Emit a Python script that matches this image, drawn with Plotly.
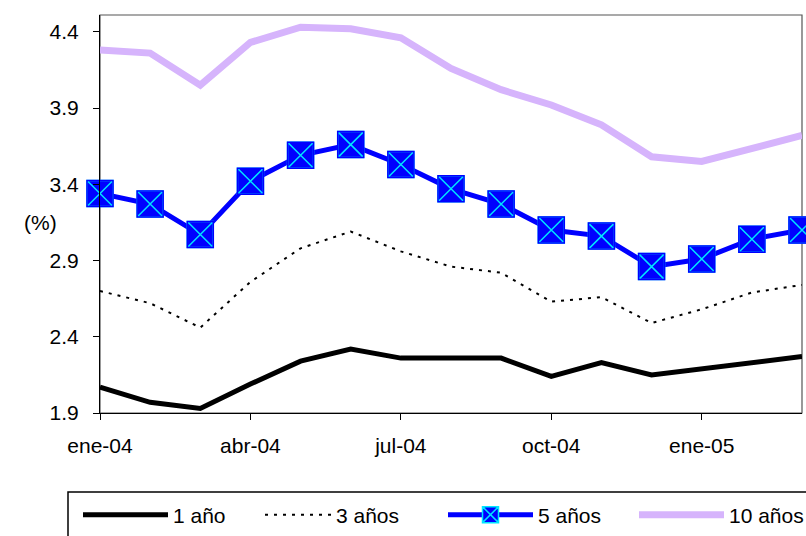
import plotly.graph_objects as go

months = ["ene-04", "feb-04", "mar-04", "abr-04", "may-04", "jun-04", "jul-04",
          "ago-04", "sep-04", "oct-04", "nov-04", "dic-04", "ene-05", "feb-05", "mar-05"]
tick_labels = ["ene-04", "abr-04", "jul-04", "oct-04", "ene-05"]
y_ticks = [1.9, 2.4, 2.9, 3.4, 3.9, 4.4]

tasa_1 = [2.07, 1.97, 1.93, 2.09, 2.24, 2.32, 2.26, 2.26, 2.26, 2.14, 2.23, 2.15, 2.19, 2.23, 2.27]
tasa_3 = [2.70, 2.62, 2.46, 2.76, 2.98, 3.09, 2.96, 2.86, 2.82, 2.63, 2.66, 2.49, 2.58, 2.69, 2.74]
tasa_5 = [3.34, 3.27, 3.07, 3.42, 3.59, 3.66, 3.53, 3.37, 3.27, 3.10, 3.06, 2.86, 2.91, 3.04, 3.10]
tasa_10 = [4.28, 4.26, 4.05, 4.33, 4.43, 4.42, 4.36, 4.16, 4.02, 3.92, 3.79, 3.58, 3.55, 3.64, 3.72]

FONT = "Liberation Sans, Arial, sans-serif"
FS = 21

fig = go.Figure()

fig.add_trace(go.Scatter(
    x=months, y=tasa_10, mode="lines", name="10 años",
    line=dict(color="#d6b4fc", width=7), legend="legend4", cliponaxis=False))
fig.add_trace(go.Scatter(
    x=months, y=tasa_3, mode="lines", name="3 años",
    line=dict(color="black", width=2, dash="3px,6px"), legend="legend2", cliponaxis=False))
fig.add_trace(go.Scatter(
    x=months, y=tasa_1, mode="lines", name="1 año",
    line=dict(color="black", width=5), legend="legend", cliponaxis=False))
fig.add_trace(go.Scatter(
    x=months, y=tasa_5, mode="lines+markers", name="5 años",
    line=dict(color="#0000ff", width=5),
    marker=dict(symbol="square-x", size=26, color="#0000ff",
                line=dict(color="#00e5ff", width=1.5)),
    legend="legend3", cliponaxis=False))
# blue rim over the marker outline so only the cross is cyan
fig.add_trace(go.Scatter(
    x=months, y=tasa_5, mode="markers", showlegend=False, hoverinfo="skip",
    marker=dict(symbol="square-open", size=26, color="#0000ff",
                line=dict(color="#0000ff", width=1.5)),
    cliponaxis=False))

PLOT_L, PLOT_R, PLOT_T, PLOT_B = 100, 802, 15, 413
W, H = PLOT_R - PLOT_L, PLOT_B - PLOT_T


def px_x(px):
    return (px - PLOT_L) / W


def px_y(py):
    return (PLOT_B - py) / H


legend_common = dict(orientation="h", yanchor="middle", xanchor="left",
                     font=dict(family=FONT, size=FS, color="black"),
                     bgcolor="rgba(0,0,0,0)", borderwidth=0)

fig.update_layout(
    width=806, height=536,
    margin=dict(l=PLOT_L, r=806 - PLOT_R, t=PLOT_T, b=536 - PLOT_B, autoexpand=False),
    paper_bgcolor="white", plot_bgcolor="rgba(0,0,0,0)",
    font=dict(family=FONT, size=FS, color="black"),
    xaxis=dict(
        type="category", categoryarray=months, range=[0, len(months) - 1],
        tickmode="array", tickvals=tick_labels, ticktext=tick_labels,
        ticks="outside", ticklen=6, tickcolor="black", tickwidth=1,
        showline=True, linecolor="black", linewidth=1,
        showgrid=False, zeroline=False, ticklabelstandoff=8, automargin=False,
        tickfont=dict(family=FONT, size=FS, color="black")),
    yaxis=dict(
        range=[1.9, 4.51], tickmode="array", tickvals=y_ticks,
        ticktext=[f"{v:.1f}" for v in y_ticks],
        ticks="outside", ticklen=6, tickcolor="black", tickwidth=1,
        showline=True, linecolor="black", linewidth=1,
        showgrid=False, zeroline=False, ticklabelstandoff=10, automargin=False,
        tickfont=dict(family=FONT, size=FS, color="black")),
    legend=dict(x=px_x(78), y=px_y(515), itemwidth=85, **legend_common),
    legend2=dict(x=px_x(260), y=px_y(515), itemwidth=66, **legend_common),
    legend3=dict(x=px_x(443), y=px_y(515), itemwidth=85, **legend_common),
    legend4=dict(x=px_x(634), y=px_y(515), itemwidth=85, **legend_common),
    shapes=[
        # plot frame (top and right edges in grey)
        dict(type="rect", xref="paper", yref="paper", x0=0, x1=1, y0=0, y1=1,
             line=dict(color="#555555", width=1.2), fillcolor="rgba(0,0,0,0)",
             layer="below"),
        # legend box
        dict(type="rect", xref="paper", yref="paper",
             x0=px_x(68), x1=px_x(900), y0=px_y(492), y1=px_y(620),
             line=dict(color="black", width=1.5), fillcolor="rgba(0,0,0,0)"),
    ],
    annotations=[dict(text="(%)", xref="paper", yref="paper",
                      x=px_x(40), y=px_y(222), xanchor="center", yanchor="middle",
                      showarrow=False, font=dict(family=FONT, size=FS, color="black"))],
    showlegend=True,
)

fig.write_html("out.html")
